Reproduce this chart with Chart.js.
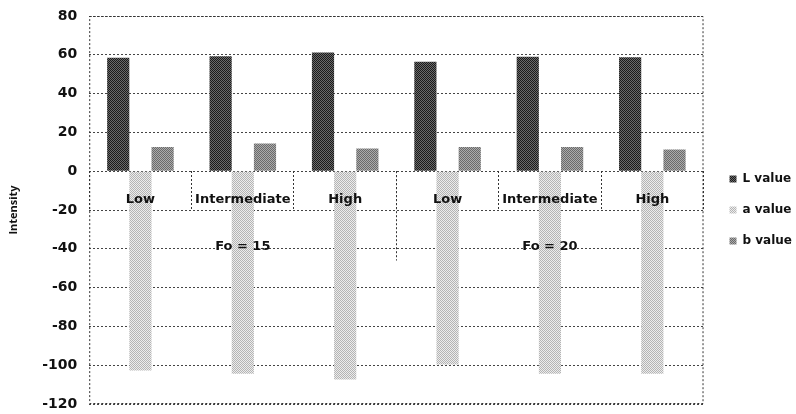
<!DOCTYPE html>
<html>
<head>
<meta charset="utf-8">
<title>Intensity</title>
<script src="https://cdn.jsdelivr.net/npm/chart.js@4.4.1/dist/chart.umd.min.js"></script>
<style>
  html, body { margin: 0; padding: 0; background: #fff; }
  .chart-box { width: 796px; height: 414px; }
</style>
</head>
<body>
<div class="chart-box"><canvas id="myChart"></canvas></div>
<script>
/*------------------
~~~~~~~Data~~~~~~~
------------------*/
const categories = ['Low', 'Intermediate', 'High', 'Low', 'Intermediate', 'High'];
const groupLabels = ['Fo = 15', 'Fo = 20'];
const seriesNames = ['L value', 'a value', 'b value'];
const lValues = [58.5, 59.2, 61.2, 56.4, 59.0, 58.7];
const aValues = [-102.7, -104.4, -107.4, -99.6, -104.4, -104.4];
const bValues = [12.5, 14.3, 11.7, 12.5, 12.5, 11.2];
const yMin = -120;
const yMax = 80;
const yStep = 20;
const yTitle = 'Intensity';

/*--------------------
~~~~~~~Helpers~~~~~~~
--------------------*/
const ctx = document.getElementById('myChart').getContext('2d');
const groupSize = categories.length / groupLabels.length;

// halftone look of the scanned bars
function makePattern(dark, light) {
    const tile = document.createElement('canvas');
    tile.width = 2;
    tile.height = 2;
    const t = tile.getContext('2d');
    t.fillStyle = light;
    t.fillRect(0, 0, 2, 2);
    t.fillStyle = dark;
    t.fillRect(0, 0, 1, 1);
    t.fillRect(1, 1, 1, 1);
    return ctx.createPattern(tile, 'repeat');
}

// group name goes under the middle category of each group
const xLabels = categories.map((name, i) => {
    if (i % groupSize === Math.floor(groupSize / 2)) {
        return [name, '', groupLabels[Math.floor(i / groupSize)]];
    }
    return name;
});

const frameAndGroups = {
    id: 'frameAndGroups',
    afterDraw(chart) {
        const {ctx, chartArea, scales} = chart;
        ctx.save();
        ctx.strokeStyle = '#333';
        ctx.lineWidth = 1;
        ctx.setLineDash([2, 2]);
        ctx.strokeRect(chartArea.left + 0.5, chartArea.top + 0.5, chartArea.width - 1, chartArea.height - 1);
        for (let g = 1; g < groupLabels.length; g++) {
            const x = Math.round(scales.x.getPixelForValue(g * groupSize - 0.5)) + 0.5;
            ctx.beginPath();
            ctx.moveTo(x, scales.y.getPixelForValue(0));
            ctx.lineTo(x, scales.y.getPixelForValue(-46));
            ctx.stroke();
        }
        ctx.restore();
    }
};

const boldFont = {family: "'DejaVu Sans', sans-serif", weight: 'bold', size: 13};

/*------------------
~~~~~~~Chart~~~~~~~
------------------*/
new Chart(ctx, {
    type: 'bar',
    data: {
        labels: xLabels,
        datasets: [
            {label: seriesNames[0], data: lValues, backgroundColor: makePattern('#1a1a1a', '#6a6a6a')},
            {label: seriesNames[1], data: aValues, backgroundColor: makePattern('#b4b4b4', '#ececec')},
            {label: seriesNames[2], data: bValues, backgroundColor: makePattern('#6a6a6a', '#ababab')},
        ]
    },
    options: {
        responsive: true,
        maintainAspectRatio: false,
        animation: false,
        categoryPercentage: 0.65,
        barPercentage: 1.0,
        borderWidth: 0,
        layout: {padding: {top: 16, bottom: 10, left: 4, right: -6}},
        scales: {
            x: {
                position: {y: 0},
                grid: {z: 1, drawOnChartArea: false, drawTicks: true, tickLength: 38, color: '#333', tickBorderDash: [2, 2]},
                border: {display: false},
                ticks: {
                    z: 1,
                    color: '#111',
                    font: {...boldFont, lineHeight: 1.8},
                    padding: -21,
                    maxRotation: 0,
                    autoSkip: false
                }
            },
            y: {
                min: yMin,
                max: yMax,
                ticks: {stepSize: yStep, color: '#111', font: {...boldFont, size: 14}, padding: 0},
                grid: {color: '#444', tickLength: 12, tickColor: 'rgba(0,0,0,0)'},
                border: {display: false, dash: [2, 2]},
                title: {
                    display: true,
                    text: yTitle,
                    color: '#111',
                    font: {family: "'Open Sans', sans-serif", weight: 'bold', size: 11},
                    padding: {top: 3, bottom: 22}
                }
            },
            // empty spacer between the plot and the legend
            gap: {
                position: 'right',
                display: true,
                ticks: {display: false},
                grid: {display: false},
                border: {display: false},
                afterFit(scale) { scale.width = 7; }
            }
        },
        plugins: {
            legend: {
                position: 'right',
                labels: {
                    usePointStyle: true,
                    pointStyle: 'rect',
                    boxWidth: 7,
                    boxHeight: 7,
                    padding: 19,
                    color: '#111',
                    font: {...boldFont, size: 12}
                }
            },
            tooltip: {enabled: false}
        }
    },
    plugins: [frameAndGroups]
});
</script>
</body>
</html>
